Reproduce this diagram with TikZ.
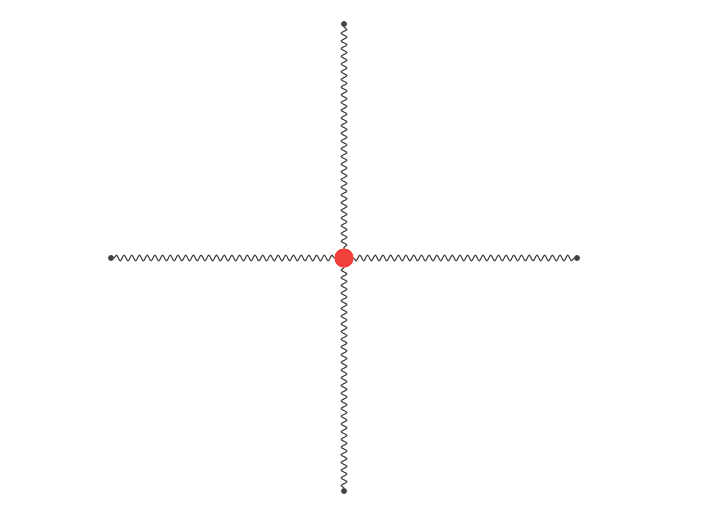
\documentclass[tikz,border=0pt]{standalone}
\usetikzlibrary{decorations.pathmorphing}
\definecolor{hubred}{HTML}{F2403A}
\definecolor{wiregray}{HTML}{444444}
\begin{document}
\begin{tikzpicture}[y=1pt, x=1pt, yscale=-1, inner sep=0pt, outer sep=0pt]
\tikzset{
  endpt/.style={circle, fill=wiregray, minimum size=6pt},
  hub/.style={circle, fill=hubred, minimum size=19pt},
  spring/.style={draw=wiregray, line width=1.1pt,
    decorate, decoration={snake, amplitude=2.8pt, segment length=7.7pt}}
}
\useasboundingbox (0,0) rectangle (708,530);
\node[hub] (centre) at (344,258) {};
\node[endpt] (north) at (344,24) {};
\node[endpt] (south) at (344,491) {};
\node[endpt] (west) at (111,258) {};
\node[endpt] (east) at (577,258) {};
\path[spring] (north) -- (centre);
\path[spring] (south) -- (centre);
\path[spring] (west) -- (centre);
\path[spring] (east) -- (centre);
\node[hub] at (centre) {};
\end{tikzpicture}
\end{document}
